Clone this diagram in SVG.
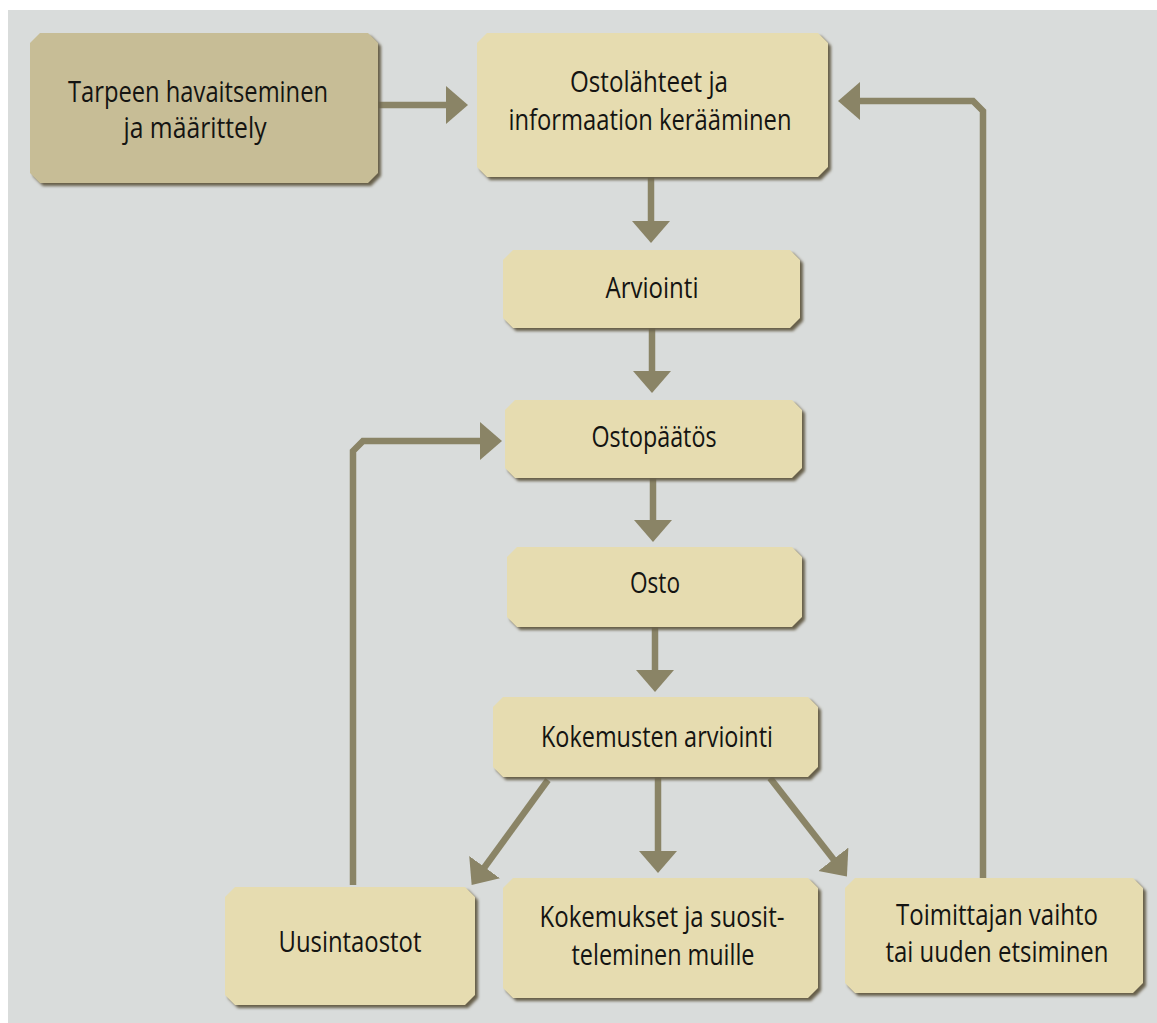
<svg xmlns="http://www.w3.org/2000/svg" xmlns:xlink="http://www.w3.org/1999/xlink" width="1157" height="1023" viewBox="0 0 1157 1023">
<defs>
<style>
.bg{fill:#d9dcdb}
.box{fill:#e6dcb0}
.box1{fill:#c7bd96}
.shadow{fill:#665f48;filter:url(#blur)}
.conn{fill:none;stroke:#8a8466;stroke-width:6.5;stroke-linejoin:miter}
.arr{marker-end:url(#head)}
text{font-family:"Open Sans","Noto Sans","Liberation Sans",sans-serif;font-size:29px;fill:#141412;text-anchor:middle}
</style>
<filter id="blur" x="-5%" y="-5%" width="110%" height="115%"><feGaussianBlur stdDeviation="1.5"/></filter>
<marker id="head" markerUnits="userSpaceOnUse" markerWidth="24" markerHeight="40" refX="1" refY="19" orient="auto">
<path d="M0,0 L22,19 L0,38 Z" fill="#8a8466"/>
</marker>
</defs>
<rect x="0" y="0" width="1157" height="1023" fill="#ffffff"/>
<rect class="bg" x="8" y="10" width="1149" height="1013"/>

<g id="connectors">
<path class="conn arr" d="M378,105 H447"/>
<path class="conn arr" d="M651,177 V222"/>
<path class="conn arr" d="M652,328 V372"/>
<path class="conn arr" d="M653,478 V521"/>
<path class="conn arr" d="M655,627 V671"/>
<path class="conn arr" d="M658,777 V852"/>
<path class="conn arr" d="M548,780 L484,868"/>
<path class="conn arr" d="M770,778 L834,860"/>
<path class="conn arr" d="M353,885 V451 L363,441 H481"/>
<path class="conn arr" d="M983,878 V111 L973,101 H859"/>
</g>

<g id="n1">
<polygon class="shadow" transform="translate(3,3)" points="40,33 368,33 378,43 378,173 368,183 40,183 30,173 30,43"/>
<polygon class="box1" points="40,33 368,33 378,43 378,173 368,183 40,183 30,173 30,43"/>
<text x="198" y="102" textLength="260" lengthAdjust="spacingAndGlyphs">Tarpeen havaitseminen</text>
<text x="195" y="138" textLength="143" lengthAdjust="spacingAndGlyphs">ja määrittely</text>
</g>

<g id="n2">
<polygon class="shadow" transform="translate(3,3)" points="487,33 818,33 828,43 828,167 818,177 487,177 477,167 477,43"/>
<polygon class="box" points="487,33 818,33 828,43 828,167 818,177 487,177 477,167 477,43"/>
<text x="649" y="92" textLength="158" lengthAdjust="spacingAndGlyphs">Ostolähteet ja</text>
<text x="650" y="130" textLength="283" lengthAdjust="spacingAndGlyphs">informaation kerääminen</text>
</g>

<g id="n3">
<polygon class="shadow" transform="translate(3,3)" points="513,250 790,250 800,260 800,318 790,328 513,328 503,318 503,260"/>
<polygon class="box" points="513,250 790,250 800,260 800,318 790,328 513,328 503,318 503,260"/>
<text x="652" y="298" textLength="93" lengthAdjust="spacingAndGlyphs">Arviointi</text>
</g>

<g id="n4">
<polygon class="shadow" transform="translate(3,3)" points="515,400 792,400 802,410 802,468 792,478 515,478 505,468 505,410"/>
<polygon class="box" points="515,400 792,400 802,410 802,468 792,478 515,478 505,468 505,410"/>
<text x="654" y="447" textLength="125" lengthAdjust="spacingAndGlyphs">Ostopäätös</text>
</g>

<g id="n5">
<polygon class="shadow" transform="translate(3,3)" points="517,547 792,547 802,557 802,617 792,627 517,627 507,617 507,557"/>
<polygon class="box" points="517,547 792,547 802,557 802,617 792,627 517,627 507,617 507,557"/>
<text x="655" y="593" textLength="50" lengthAdjust="spacingAndGlyphs">Osto</text>
</g>

<g id="n6">
<polygon class="shadow" transform="translate(3,3)" points="503,697 808,697 818,707 818,767 808,777 503,777 493,767 493,707"/>
<polygon class="box" points="503,697 808,697 818,707 818,767 808,777 503,777 493,767 493,707"/>
<text x="657" y="747" textLength="232" lengthAdjust="spacingAndGlyphs">Kokemusten arviointi</text>
</g>

<g id="n7">
<polygon class="shadow" transform="translate(3,3)" points="235,887 465,887 475,897 475,995 465,1005 235,1005 225,995 225,897"/>
<polygon class="box" points="235,887 465,887 475,897 475,995 465,1005 235,1005 225,995 225,897"/>
<text x="350" y="952" textLength="143" lengthAdjust="spacingAndGlyphs">Uusintaostot</text>
</g>

<g id="n8">
<polygon class="shadow" transform="translate(3,3)" points="513,878 808,878 818,888 818,988 808,998 513,998 503,988 503,888"/>
<polygon class="box" points="513,878 808,878 818,888 818,988 808,998 513,998 503,988 503,888"/>
<text x="662" y="927" textLength="245" lengthAdjust="spacingAndGlyphs">Kokemukset ja suosit-</text>
<text x="663" y="965" textLength="183" lengthAdjust="spacingAndGlyphs">teleminen muille</text>
</g>

<g id="n9">
<polygon class="shadow" transform="translate(3,3)" points="855,878 1133,878 1143,888 1143,983 1133,993 855,993 845,983 845,888"/>
<polygon class="box" points="855,878 1133,878 1143,888 1143,983 1133,993 855,993 845,983 845,888"/>
<text x="997" y="925" textLength="202" lengthAdjust="spacingAndGlyphs">Toimittajan vaihto</text>
<text x="997" y="962" textLength="223" lengthAdjust="spacingAndGlyphs">tai uuden etsiminen</text>
</g>
</svg>
